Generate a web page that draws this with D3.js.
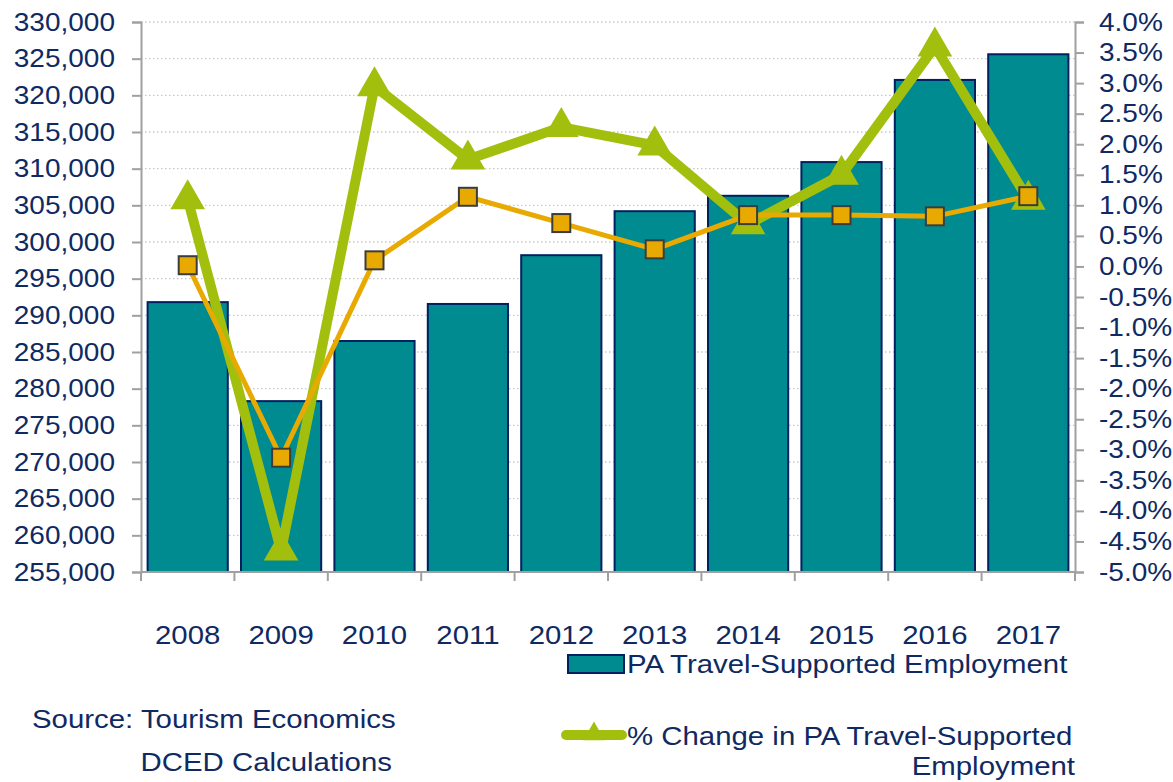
<!DOCTYPE html>
<html>
<head>
<meta charset="utf-8">
<script src="https://cdn.jsdelivr.net/npm/d3@7/dist/d3.min.js"></script>
<style>
  body { margin: 0; background: #fff; }
  svg { font-family: "Liberation Sans", Arial, sans-serif; }
</style>
</head>
<body>
<svg width="1173" height="782"></svg>
<script>
const years = ["2008", "2009", "2010", "2011", "2012", "2013", "2014", "2015", "2016", "2017"];
const employment = [291800, 278300, 286500, 291550, 298200, 304200, 306300, 310900, 322100, 325600];
const pctChange = [1.1, -4.65, 2.95, 1.75, 2.28, 1.98, 0.69, 1.5, 3.6, 1.09];
const otherPct = [0.02, -3.13, 0.1, 1.14, 0.71, 0.28, 0.84, 0.84, 0.82, 1.15];
const leftTicks = d3.range(255000, 330001, 5000);
const rightTicks = d3.range(-5, 4.01, 0.5);

const navy = "#0f2a62";
const teal = "#008b90";
const green = "#a3bf0e";
const gold = "#e8aa00";

const svg = d3.select("svg");
const margin = { left: 141, right: 1075, top: 22, bottom: 572 };

const x = d3.scaleBand().domain(years).range([margin.left, margin.right]).paddingInner(0.12).paddingOuter(0.06);
const xc = d3.scaleBand().domain(years).range([margin.left, margin.right]);
const yL = d3.scaleLinear().domain([255000, 330000]).range([margin.bottom, margin.top]);
const yR = d3.scaleLinear().domain([-5, 4]).range([margin.bottom, margin.top]);

// gridlines
svg.append("g")
  .selectAll("line")
  .data(leftTicks.slice(1))
  .join("line")
  .attr("x1", margin.left)
  .attr("x2", margin.right)
  .attr("y1", d => yL(d))
  .attr("y2", d => yL(d))
  .attr("stroke", "#c8c8c8")
  .attr("stroke-width", 1.3)
  .attr("stroke-dasharray", "1.5 2.5");

// bars
svg.append("g")
  .selectAll("rect")
  .data(years)
  .join("rect")
  .attr("x", d => x(d) + 1)
  .attr("width", x.bandwidth() - 2)
  .attr("y", (d, i) => yL(employment[i]))
  .attr("height", (d, i) => yL(255000) - yL(employment[i]))
  .attr("fill", teal)
  .attr("stroke", "#002060")
  .attr("stroke-width", 2);

// axes
const fmt = d3.format(",");
const pct = d => d3.format(".1f")(d).replace("−", "-") + "%";
const axL = svg.append("g")
  .attr("transform", `translate(${margin.left},0)`)
  .call(d3.axisLeft(yL).tickValues(leftTicks).tickFormat(fmt).tickSize(9).tickPadding(17));
const axR = svg.append("g")
  .attr("transform", `translate(${margin.right},0)`)
  .call(d3.axisRight(yR).tickValues(rightTicks).tickFormat(pct).tickSize(9).tickPadding(15));
const axB = svg.append("g")
  .attr("transform", `translate(0,${margin.bottom})`)
  .call(d3.axisBottom(xc).tickSize(0).tickPadding(54));

// category separator ticks
svg.append("g")
  .selectAll("line")
  .data(d3.range(years.length + 1))
  .join("line")
  .attr("x1", i => margin.left + i * xc.step())
  .attr("x2", i => margin.left + i * xc.step())
  .attr("y1", margin.bottom)
  .attr("y2", margin.bottom + 9)
  .attr("stroke", "#a0a0a0")
  .attr("stroke-width", 2);

[axL, axR, axB].forEach(a => {
  a.selectAll(".domain").attr("stroke", "#a0a0a0").attr("stroke-width", 2);
  a.selectAll(".tick line").attr("stroke", "#a0a0a0").attr("stroke-width", 2);
  a.selectAll("text").attr("fill", navy).attr("font-size", 25).attr("font-family", "Liberation Sans, Arial, sans-serif")
    .classed("tk", true);
});
axB.select(".domain").attr("d", `M${margin.left},0H${margin.right}`);
axB.selectAll("text").attr("font-size", 26).classed("tk", false);

// lines (right axis)
const line = d3.line().x((d, i) => xc(years[i]) + xc.bandwidth() / 2).y(d => yR(d));

svg.append("path")
  .datum(pctChange)
  .attr("d", line)
  .attr("fill", "none")
  .attr("stroke", green)
  .attr("stroke-width", 10)
  .attr("stroke-linejoin", "miter");

svg.append("path")
  .datum(otherPct)
  .attr("d", line)
  .attr("fill", "none")
  .attr("stroke", gold)
  .attr("stroke-width", 5);

const tri = d3.symbol().type(d3.symbolTriangle).size(520);
svg.append("g")
  .selectAll("path")
  .data(pctChange)
  .join("path")
  .attr("d", tri)
  .attr("transform", (d, i) => `translate(${xc(years[i]) + xc.bandwidth() / 2},${yR(d)})`)
  .attr("fill", green);

svg.append("g")
  .selectAll("rect")
  .data(otherPct)
  .join("rect")
  .attr("x", (d, i) => xc(years[i]) + xc.bandwidth() / 2 - 9)
  .attr("y", d => yR(d) - 9)
  .attr("width", 18)
  .attr("height", 18)
  .attr("fill", gold)
  .attr("stroke", "#3c3c3c")
  .attr("stroke-width", 2);

// legend
const lg = svg.append("g");
lg.append("rect")
  .attr("x", 568).attr("y", 655).attr("width", 56).attr("height", 18)
  .attr("fill", teal).attr("stroke", "#002060").attr("stroke-width", 2);
lg.append("text").attr("x", 627).attr("y", 673).text("PA Travel-Supported Employment");
lg.append("line")
  .attr("x1", 566).attr("x2", 622).attr("y1", 735).attr("y2", 735)
  .attr("stroke", green).attr("stroke-width", 10).attr("stroke-linecap", "round");
lg.append("path").attr("d", d3.symbol().type(d3.symbolTriangle).size(200))
  .attr("transform", "translate(594,734)").attr("fill", green);
lg.append("text").attr("x", 627).attr("y", 745).text("% Change in PA Travel-Supported");
lg.append("text").attr("x", 1075).attr("y", 775).attr("text-anchor", "end").text("Employment");
lg.selectAll("text").attr("fill", navy).attr("font-size", 26);

// source
const src = svg.append("g").attr("fill", navy).attr("font-size", 26);
src.append("text").attr("x", 32).attr("y", 728).text("Source: Tourism Economics");
src.append("text").attr("x", 392).attr("y", 771).attr("text-anchor", "end").text("DCED Calculations");

// widen glyphs a little to match the reference's wide Arial rendering
svg.selectAll("text").each(function () {
  const t = d3.select(this);
  const k = t.classed("tk") ? 1.12 : 1.13;
  const len = this.getComputedTextLength();
  const wide = len * k;
  const anchor = this.closest("[text-anchor]") ? this.closest("[text-anchor]").getAttribute("text-anchor") : "start";
  const x0 = +(t.attr("x") || 0);
  const left = anchor === "end" ? x0 - wide : anchor === "middle" ? x0 - wide / 2 : x0;
  t.attr("text-anchor", "start").attr("x", left)
    .attr("textLength", wide).attr("lengthAdjust", "spacingAndGlyphs");
});
</script>
</body>
</html>
